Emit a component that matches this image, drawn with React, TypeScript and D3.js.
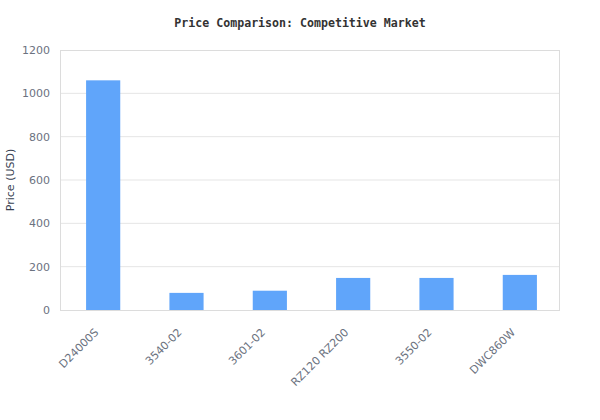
import React, { useEffect, useRef } from "react";
import * as d3 from "d3";

// chart data
const products = ["D24000S", "3540-02", "3601-02", "RZ120 RZ200", "3550-02", "DWC860W"];
const prices = [1060, 79, 89, 148, 148, 162];
const yTicks = [0, 200, 400, 600, 800, 1000, 1200];

const App = () => {
  const ref = useRef<SVGSVGElement | null>(null);

  useEffect(() => {
    const svg = d3.select(ref.current);
    svg.selectAll("*").remove();

    const left = 60,
      right = 560,
      top = 50,
      bottom = 310;

    // bands measured from the bars (step ~83px, bar ~34px)
    const x = d3
      .scaleBand<string>()
      .domain(products)
      .range([61.5, 561.5])
      .paddingInner(0.59)
      .paddingOuter(0.295);

    const y = d3.scaleLinear().domain([0, 1200]).range([bottom, top]);

    // title
    svg
      .append("text")
      .attr("x", 300)
      .attr("y", 27)
      .attr("text-anchor", "middle")
      .attr("font-family", "'DejaVu Sans Mono', monospace")
      .attr("font-weight", "bold")
      .attr("font-size", 11.6)
      .attr("fill", "#333")
      .text("Price Comparison: Competitive Market");

    // gridlines
    svg
      .append("g")
      .selectAll("line")
      .data(yTicks.filter((t) => t > 0 && t < 1200))
      .enter()
      .append("line")
      .attr("x1", left)
      .attr("x2", right)
      .attr("y1", (d) => y(d))
      .attr("y2", (d) => y(d))
      .attr("stroke", "#e5e5e5")
      .attr("stroke-width", 1);

    // bars
    svg
      .append("g")
      .selectAll("rect")
      .data(prices)
      .enter()
      .append("rect")
      .attr("x", (d, i) => x(products[i]) as number)
      .attr("y", (d) => y(d))
      .attr("width", x.bandwidth())
      .attr("height", (d) => bottom - y(d))
      .attr("fill", "#60a5fa");

    // frame
    svg
      .append("rect")
      .attr("x", left + 0.5)
      .attr("y", top + 0.5)
      .attr("width", right - left - 1)
      .attr("height", bottom - top)
      .attr("fill", "none")
      .attr("stroke", "#dcdcdc")
      .attr("stroke-width", 1);

    // y axis labels
    const yAxis = svg
      .append("g")
      .attr("transform", `translate(${left},0)`)
      .call(d3.axisLeft(y).tickValues(yTicks).tickFormat(d3.format("d")).tickSize(0).tickPadding(10));
    yAxis.select(".domain").remove();
    yAxis
      .selectAll("text")
      .attr("font-family", "'DejaVu Sans', sans-serif")
      .attr("font-size", 11)
      .attr("fill", "#6b7280");

    // x axis labels, rotated
    const xAxis = svg
      .append("g")
      .attr("transform", `translate(0,${bottom})`)
      .call(d3.axisBottom(x).tickSize(0));
    xAxis.select(".domain").remove();
    xAxis
      .selectAll("text")
      .attr("font-family", "'DejaVu Sans', sans-serif")
      .attr("font-size", 11)
      .attr("fill", "#6b7280")
      .attr("text-anchor", "end")
      .attr("x", 0)
      .attr("y", 0)
      .attr("dy", 0)
      .attr("transform", "translate(-4,23) rotate(-45)");

    // y axis title
    svg
      .append("text")
      .attr("transform", "rotate(-90)")
      .attr("x", -180)
      .attr("y", 14)
      .attr("text-anchor", "middle")
      .attr("font-family", "'DejaVu Sans', sans-serif")
      .attr("font-size", 11)
      .attr("fill", "#374151")
      .text("Price (USD)");
  }, []);

  return <svg ref={ref} width={600} height={420} style={{ position: "absolute", left: 0, top: 0 }} />;
};

export default App;
